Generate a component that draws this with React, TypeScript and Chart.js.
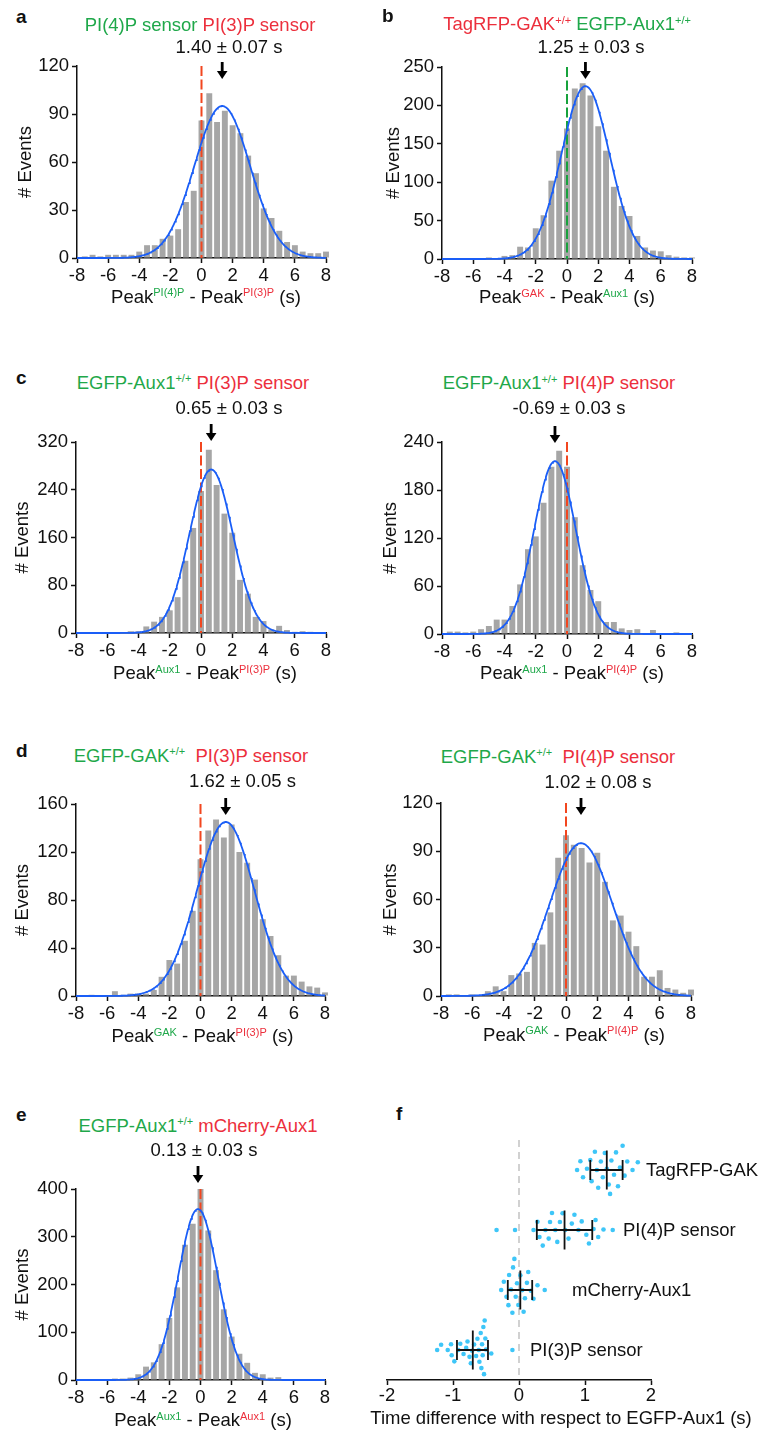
import React, { useEffect, useRef } from 'react';
import { Chart, registerables } from 'chart.js';

Chart.register(...registerables);

const FONT = "'Liberation Sans', Arial, Helvetica, sans-serif";
Chart.defaults.font.family = FONT;

const GREEN = '#1fa84a';
const RED = '#ec2f3c';
const BLUE = '#1a5ef7';
const BAR = '#a6a6a6';
const DASH_RED = '#f2461f';
const DASH_GREEN = '#17a23c';
const INK = '#111111';
const DOT = '#3ec6f8';

// ---------- histogram data (bin centres in s, counts per bin) ----------
const binCenters = [-8, -7.5, -7, -6.5, -6, -5.5, -5, -4.5, -4, -3.5, -3, -2.5, -2, -1.5, -1, -0.5, 0, 0.5, 1, 1.5, 2, 2.5, 3, 3.5, 4, 4.5, 5, 5.5, 6, 6.5, 7, 7.5, 8];
const xTicks = [-8, -6, -4, -2, 0, 2, 4, 6, 8];

const countsA = [0, 1, 2, 1, 2, 2, 2, 2, 4, 8, 8, 12, 14, 18, 35, 42, 86, 103, 85, 92, 83, 78, 64, 53, 31, 25, 17, 10, 8, 4, 3, 3, 4];
const countsB = [0, 0, 0, 0, 0, 0, 2, 1, 4, 5, 16, 15, 40, 57, 102, 141, 170, 222, 229, 213, 173, 141, 94, 69, 56, 30, 15, 11, 10, 5, 3, 2, 2];
const countsC1 = [0, 0, 1, 0, 0, 1, 1, 3, 3, 11, 19, 27, 38, 60, 121, 176, 238, 307, 248, 200, 168, 89, 66, 27, 20, 6, 12, 5, 2, 3, 2, 1, 1];
const countsC2 = [0, 3, 3, 2, 3, 6, 10, 18, 18, 35, 62, 106, 122, 164, 209, 229, 209, 146, 86, 55, 41, 15, 15, 7, 5, 6, 1, 5, 0, 0, 2, 0, 0];
const countsD1 = [0, 0, 1, 0, 0, 4, 1, 2, 2, 2, 5, 16, 30, 27, 46, 71, 114, 138, 147, 132, 143, 120, 111, 97, 64, 50, 34, 17, 17, 12, 8, 7, 3];
const countsD2 = [0, 1, 1, 0, 1, 0, 3, 6, 3, 13, 14, 15, 33, 32, 52, 86, 100, 94, 92, 83, 89, 71, 47, 50, 40, 31, 12, 12, 16, 5, 4, 2, 4];
const countsE = [0, 0, 0, 1, 1, 3, 3, 5, 12, 28, 37, 75, 130, 194, 283, 327, 400, 313, 230, 148, 91, 55, 36, 15, 12, 5, 6, 2, 1, 1, 0, 1, 1];

const yTicksA = [0, 30, 60, 90, 120];
const yTicksB = [0, 50, 100, 150, 200, 250];
const yTicksC1 = [0, 80, 160, 240, 320];
const yTicksC2 = [0, 60, 120, 180, 240];
const yTicksD1 = [0, 40, 80, 120, 160];
const yTicksD2 = [0, 30, 60, 90, 120];
const yTicksE = [0, 100, 200, 300, 400];

// Gaussian fit parameters (centre, peak height, width)
const fitMean = [1.33, 1.18, 0.65, -0.77, 1.62, 0.96, -0.16];
const fitPeak = [95, 225, 274, 216, 145, 95, 358];
const fitSigma = [1.79, 1.54, 1.39, 1.33, 1.85, 2.0, 1.28];

const meanLabels = ['1.40 ± 0.07 s', '1.25 ± 0.03 s', '0.65 ± 0.03 s', '-0.69 ± 0.03 s', '1.62 ± 0.05 s', '1.02 ± 0.08 s', '0.13 ± 0.03 s'];

// ---------- panel f data ----------
const fCategories = ['PI(3)P sensor', 'mCherry-Aux1', 'PI(4)P sensor', 'TagRFP-GAK'];
const fPI3P = [-1.24, -1.18, -1.08, -1.03, -1.02, -0.98, -0.92, -0.89, -0.84, -0.80, -0.78, -0.75, -0.73, -0.71, -0.68, -0.65, -0.63, -0.61, -0.60, -0.58, -0.57, -0.56, -0.55, -0.54, -0.53, -0.52, -0.51, -0.50, -0.42, -0.10];
const fMCherry = [-0.27, -0.23, -0.19, -0.16, -0.15, -0.12, -0.10, -0.09, -0.07, -0.05, -0.03, -0.01, 0.02, 0.05, 0.07, 0.09, 0.12, 0.14, 0.18, 0.22, 0.28, 0.39];
const fPI4P = [-0.34, -0.06, 0.22, 0.28, 0.31, 0.36, 0.40, 0.45, 0.47, 0.50, 0.55, 0.58, 0.62, 0.66, 0.70, 0.75, 0.80, 0.84, 0.90, 0.95, 1.02, 1.06, 1.13, 1.16, 1.20, 1.28, 1.42];
const fTagGAK = [0.88, 0.93, 0.97, 1.03, 1.08, 1.10, 1.15, 1.18, 1.20, 1.24, 1.27, 1.30, 1.33, 1.36, 1.38, 1.40, 1.44, 1.47, 1.50, 1.53, 1.57, 1.60, 1.64, 1.72, 1.80];
const fMean = [-0.70, 0.02, 0.69, 1.33];
const fLow = [-0.94, -0.17, 0.27, 1.08];
const fHigh = [-0.47, 0.20, 1.11, 1.57];
const fTicks = [-2, -1, 0, 1, 2];

const histCounts = [countsA, countsB, countsC1, countsC2, countsD1, countsD2, countsE];
const histYTicks = [yTicksA, yTicksB, yTicksC1, yTicksC2, yTicksD1, yTicksD2, yTicksE];
const fGroups = [fPI3P, fMCherry, fPI4P, fTagGAK];

type Part = { t: string; c?: string; sup?: boolean };

// ---------- layout (pixel positions) ----------
const panels = [
  {
    L: 77, T: 66, R: 326, B: 258, letter: 'a', letterPos: [16, 16], tip: 13, zero: DASH_RED, yTitleCx: 25.8,
    title: [{ t: 'PI(4)P sensor', c: GREEN }, { t: ' ' }, { t: 'PI(3)P sensor', c: RED }] as Part[], titlePos: [200, 25], meanPos: [229, 47],
    xTitle: [{ t: 'Peak' }, { t: 'PI(4)P', c: GREEN, sup: true }, { t: ' - Peak' }, { t: 'PI(3)P', c: RED, sup: true }, { t: ' (s)' }] as Part[], xTitlePos: [206, 296.5],
  },
  {
    L: 442, T: 67, R: 692, B: 259, letter: 'b', letterPos: [382, 15], tip: 12, zero: DASH_GREEN, yTitleCx: 393.7,
    title: [{ t: 'TagRFP-GAK', c: RED }, { t: '+/+', c: RED, sup: true }, { t: ' ' }, { t: 'EGFP-Aux1', c: GREEN }, { t: '+/+', c: GREEN, sup: true }] as Part[], titlePos: [567, 24], meanPos: [591, 46.7],
    xTitle: [{ t: 'Peak' }, { t: 'GAK', c: RED, sup: true }, { t: ' - Peak' }, { t: 'Aux1', c: GREEN, sup: true }, { t: ' (s)' }] as Part[], xTitlePos: [567, 297],
  },
  {
    L: 76, T: 442, R: 326, B: 633, letter: 'c', letterPos: [16, 376.5], tip: -1, zero: DASH_RED, yTitleCx: 22.8,
    title: [{ t: 'EGFP-Aux1', c: GREEN }, { t: '+/+', c: GREEN, sup: true }, { t: ' ' }, { t: 'PI(3)P sensor', c: RED }] as Part[], titlePos: [193, 382.5], meanPos: [229, 408],
    xTitle: [{ t: 'Peak' }, { t: 'Aux1', c: GREEN, sup: true }, { t: ' - Peak' }, { t: 'PI(3)P', c: RED, sup: true }, { t: ' (s)' }] as Part[], xTitlePos: [205, 673],
  },
  {
    L: 442, T: 442, R: 692, B: 634, letter: '', letterPos: [0, 0], tip: 1, zero: DASH_RED, yTitleCx: 390.8,
    title: [{ t: 'EGFP-Aux1', c: GREEN }, { t: '+/+', c: GREEN, sup: true }, { t: ' ' }, { t: 'PI(4)P sensor', c: RED }] as Part[], titlePos: [559, 383], meanPos: [569, 408],
    xTitle: [{ t: 'Peak' }, { t: 'Aux1', c: GREEN, sup: true }, { t: ' - Peak' }, { t: 'PI(4)P', c: RED, sup: true }, { t: ' (s)' }] as Part[], xTitlePos: [572, 673],
  },
  {
    L: 76, T: 804, R: 325, B: 996, letter: 'd', letterPos: [16, 750], tip: 11, zero: DASH_RED, yTitleCx: 22.8,
    title: [{ t: 'EGFP-GAK', c: GREEN }, { t: '+/+', c: GREEN, sup: true }, { t: '  ' }, { t: 'PI(3)P sensor', c: RED }] as Part[], titlePos: [191, 755.5], meanPos: [242.5, 781],
    xTitle: [{ t: 'Peak' }, { t: 'GAK', c: GREEN, sup: true }, { t: ' - Peak' }, { t: 'PI(3)P', c: RED, sup: true }, { t: ' (s)' }] as Part[], xTitlePos: [202.5, 1036],
  },
  {
    L: 441, T: 803, R: 691, B: 996, letter: '', letterPos: [0, 0], tip: 12, zero: DASH_RED, yTitleCx: 391.2,
    title: [{ t: 'EGFP-GAK', c: GREEN }, { t: '+/+', c: GREEN, sup: true }, { t: '  ' }, { t: 'PI(4)P sensor', c: RED }] as Part[], titlePos: [558, 756.5], meanPos: [598, 781.5],
    xTitle: [{ t: 'Peak' }, { t: 'GAK', c: GREEN, sup: true }, { t: ' - Peak' }, { t: 'PI(4)P', c: RED, sup: true }, { t: ' (s)' }] as Part[], xTitlePos: [574, 1034.5],
  },
  {
    L: 76, T: 1189, R: 325, B: 1380, letter: 'e', letterPos: [16, 1114], tip: -6, zero: DASH_RED, yTitleCx: 22.8,
    title: [{ t: 'EGFP-Aux1', c: GREEN }, { t: '+/+', c: GREEN, sup: true }, { t: ' ' }, { t: 'mCherry-Aux1', c: RED }] as Part[], titlePos: [198, 1125.5], meanPos: [204, 1149.5],
    xTitle: [{ t: 'Peak' }, { t: 'Aux1', c: GREEN, sup: true }, { t: ' - Peak' }, { t: 'Aux1', c: RED, sup: true }, { t: ' (s)' }] as Part[], xTitlePos: [203, 1420],
  },
];

const F_AREA = { L: 387, T: 1140, R: 651, B: 1380 };
const fLabelPos = [[530, 1350], [572, 1290], [623, 1230], [646, 1170]];
const fSpacing = [6.6, 8.6, 9.2, 9.4];

const FS = 18.5;
const PAD_L = 66, PAD_T = 34, PAD_R = 16, PAD_B = 34;

function Label({ x, y, parts, size = FS, bold = false, anchor = 'center' }: { x: number; y: number; parts: Part[]; size?: number; bold?: boolean; anchor?: string }) {
  const tx = anchor === 'center' ? '-50%' : '0';
  return (
    <div style={{ position: 'absolute', left: x, top: y, transform: `translate(${tx}, -50%)`, whiteSpace: 'pre', fontFamily: FONT, fontSize: size, lineHeight: 1, fontWeight: bold ? 700 : 400, color: INK }}>
      {parts.map((p, i) => (
        <span key={i} style={{ color: p.c || INK, ...(p.sup ? { fontSize: 11, position: 'relative', top: -6.5 } : {}) }}>{p.t}</span>
      ))}
    </div>
  );
}

function axisStyle() {
  return {
    grid: { display: true, drawOnChartArea: false, drawTicks: true, tickLength: 5, tickWidth: 1.5, tickColor: INK, offset: false },
    border: { display: true, color: INK, width: 1.5 },
  };
}

function Hist({ idx }: { idx: number }) {
  const ref = useRef<HTMLCanvasElement | null>(null);
  const p = panels[idx];
  const W = p.R - p.L + PAD_L + PAD_R;
  const H = p.B - p.T + PAD_T + PAD_B;
  const left = p.L - PAD_L;
  const top = p.T - PAD_T;
  useEffect(() => {
    const counts = histCounts[idx];
    const yTicks = histYTicks[idx];
    const yMax = yTicks[yTicks.length - 1];
    const curve: { x: number; y: number }[] = [];
    for (let k = 0; k <= 320; k++) {
      const x = -8 + k * 0.05;
      curve.push({ x, y: fitPeak[idx] * Math.exp(-((x - fitMean[idx]) ** 2) / (2 * fitSigma[idx] ** 2)) });
    }
    const arrowPlugin = {
      id: 'meanArrow',
      afterDatasetsDraw(chart: any) {
        const ctx = chart.ctx;
        const x = chart.scales.x.getPixelForValue(fitMean[idx]);
        const tip = chart.chartArea.top + p.tip;
        ctx.save();
        ctx.fillStyle = '#000';
        ctx.fillRect(x - 1.4, tip - 17, 2.8, 10);
        ctx.beginPath();
        ctx.moveTo(x - 5.3, tip - 8);
        ctx.lineTo(x + 5.3, tip - 8);
        ctx.lineTo(x, tip);
        ctx.closePath();
        ctx.fill();
        ctx.restore();
      },
    };
    const yTitlePad = p.yTitleCx - left - (FS * 1.2) / 2;
    const chart = new Chart(ref.current as HTMLCanvasElement, {
      type: 'bar',
      data: {
        datasets: [
          { type: 'line', data: curve, borderColor: BLUE, borderWidth: 1.8, pointRadius: 0, tension: 0, order: 0, clip: false } as any,
          { type: 'line', data: [{ x: 0, y: yMax }, { x: 0, y: 0 }], borderColor: p.zero, borderWidth: 2, borderDash: [10, 3.5], pointRadius: 0, order: 1, clip: false } as any,
          { type: 'bar', data: binCenters.map((x, i) => ({ x, y: counts[i] })), backgroundColor: BAR, barPercentage: 0.76, categoryPercentage: 1, order: 2, clip: false } as any,
        ],
      },
      options: {
        responsive: false,
        animation: false,
        devicePixelRatio: 1,
        events: [],
        layout: { padding: { left: 0, top: PAD_T, right: PAD_R, bottom: 0 } },
        plugins: { legend: { display: false }, tooltip: { enabled: false } },
        scales: {
          x: {
            type: 'linear', min: -8, max: 8, offset: false,
            afterBuildTicks: (s: any) => { s.ticks = xTicks.map((v) => ({ value: v })); },
            afterFit: (s: any) => { s.height = PAD_B; },
            ...axisStyle(),
            ticks: { font: { size: FS }, color: INK, padding: 2, maxRotation: 0, autoSkip: false },
          },
          y: {
            type: 'linear', min: 0, max: yMax,
            afterBuildTicks: (s: any) => { s.ticks = yTicks.map((v) => ({ value: v })); },
            afterFit: (s: any) => { s.width = PAD_L; },
            ...axisStyle(),
            ticks: { font: { size: FS }, color: INK, padding: 3, autoSkip: false },
            title: { display: true, text: '# Events', font: { size: FS }, color: INK, padding: { top: yTitlePad, bottom: 0 } },
          },
        },
      } as any,
      plugins: [arrowPlugin],
    });
    return () => chart.destroy();
  }, []);
  return <canvas ref={ref} width={W} height={H} style={{ position: 'absolute', left, top, width: W, height: H }} />;
}

function swarmOffsets(vals: number[], pxX: number, pxY: number, d: number) {
  const placed: { x: number; y: number }[] = [];
  const out: number[] = new Array(vals.length).fill(0);
  const order = vals.map((_, i) => i).sort((a, b) => vals[a] - vals[b]);
  for (const i of order) {
    const px = vals[i] * pxX;
    const cands = [0];
    for (const q of placed) {
      const dx = px - q.x;
      if (Math.abs(dx) < d) {
        const h = Math.sqrt(d * d - dx * dx);
        cands.push(q.y + h, q.y - h);
      }
    }
    cands.sort((a, b) => Math.abs(a) - Math.abs(b));
    let y = 0;
    for (const c of cands) {
      if (placed.every((q) => (q.x - px) ** 2 + (q.y - c) ** 2 >= d * d - 1e-6)) { y = c; break; }
    }
    placed.push({ x: px, y });
    out[i] = y / pxY;
  }
  return out;
}

function Swarm() {
  const ref = useRef<HTMLCanvasElement | null>(null);
  const padL = 10, padT = 10, padR = 20, padB = 40;
  const W = F_AREA.R - F_AREA.L + padL + padR;
  const H = F_AREA.B - F_AREA.T + padT + padB;
  const left = F_AREA.L - padL;
  const top = F_AREA.T - padT;
  useEffect(() => {
    const pxX = (F_AREA.R - F_AREA.L) / 4;
    const pxY = (F_AREA.B - F_AREA.T) / 4;
    const datasets = fGroups.map((vals, gi) => {
      const offs = swarmOffsets(vals, pxX, pxY, fSpacing[gi]);
      return {
        type: 'scatter',
        data: vals.map((v, i) => ({ x: v, y: gi + offs[i] })),
        pointRadius: 2.3, pointBackgroundColor: DOT, pointBorderWidth: 0, backgroundColor: DOT, borderWidth: 0, clip: false,
      } as any;
    });
    const decor = {
      id: 'decor',
      beforeDatasetsDraw(chart: any) {
        const ctx = chart.ctx;
        const x0 = chart.scales.x.getPixelForValue(0);
        ctx.save();
        ctx.strokeStyle = '#c2c2c2';
        ctx.lineWidth = 1.5;
        ctx.setLineDash([7, 5]);
        ctx.beginPath();
        ctx.moveTo(x0, chart.chartArea.top);
        ctx.lineTo(x0, chart.chartArea.bottom);
        ctx.stroke();
        ctx.restore();
      },
      afterDatasetsDraw(chart: any) {
        const ctx = chart.ctx;
        const xs = chart.scales.x;
        const ys = chart.scales.y;
        ctx.save();
        ctx.strokeStyle = '#111';
        ctx.lineWidth = 1.8;
        for (let i = 0; i < fMean.length; i++) {
          const y = ys.getPixelForValue(i);
          const xl = xs.getPixelForValue(fLow[i]);
          const xh = xs.getPixelForValue(fHigh[i]);
          const xm = xs.getPixelForValue(fMean[i]);
          ctx.beginPath();
          ctx.moveTo(xl, y); ctx.lineTo(xh, y);
          ctx.moveTo(xl, y - 10); ctx.lineTo(xl, y + 10);
          ctx.moveTo(xh, y - 10); ctx.lineTo(xh, y + 10);
          ctx.moveTo(xm, y - 19.5); ctx.lineTo(xm, y + 19.5);
          ctx.stroke();
        }
        ctx.restore();
      },
    };
    const chart = new Chart(ref.current as HTMLCanvasElement, {
      type: 'scatter',
      data: { datasets },
      options: {
        responsive: false,
        animation: false,
        devicePixelRatio: 1,
        events: [],
        layout: { padding: { left: padL, top: padT, right: padR, bottom: 0 } },
        plugins: { legend: { display: false }, tooltip: { enabled: false } },
        scales: {
          x: {
            type: 'linear', min: -2, max: 2,
            afterBuildTicks: (s: any) => { s.ticks = fTicks.map((v) => ({ value: v })); },
            afterFit: (s: any) => { s.height = padB; },
            ...axisStyle(),
            ticks: { font: { size: FS }, color: INK, padding: 0, maxRotation: 0, autoSkip: false },
          },
          y: { type: 'linear', min: -0.5, max: 3.5, display: false },
        },
      } as any,
      plugins: [decor],
    });
    return () => chart.destroy();
  }, []);
  return <canvas ref={ref} width={W} height={H} style={{ position: 'absolute', left, top, width: W, height: H }} />;
}

export default function App() {
  return (
    <div style={{ position: 'absolute', left: 0, top: 0, width: 764, height: 1432, background: '#fff', overflow: 'hidden' }}>
      {panels.map((_, i) => <Hist key={i} idx={i} />)}
      <Swarm />
      {panels.map((p, i) => (
        <React.Fragment key={'t' + i}>
          {p.letter ? <Label x={p.letterPos[0]} y={p.letterPos[1]} parts={[{ t: p.letter }]} size={19} bold anchor="left" /> : null}
          <Label x={p.titlePos[0]} y={p.titlePos[1]} parts={p.title} />
          <Label x={p.meanPos[0]} y={p.meanPos[1]} parts={[{ t: meanLabels[i] }]} />
          <Label x={p.xTitlePos[0]} y={p.xTitlePos[1]} parts={p.xTitle} />
        </React.Fragment>
      ))}
      <Label x={396} y={1112.5} parts={[{ t: 'f' }]} size={19} bold anchor="left" />
      {fCategories.map((c, i) => (
        <Label key={'fc' + i} x={fLabelPos[i][0]} y={fLabelPos[i][1]} parts={[{ t: c }]} anchor="left" />
      ))}
      <Label x={561} y={1418} parts={[{ t: 'Time difference with respect to EGFP-Aux1 (s)' }]} />
    </div>
  );
}
